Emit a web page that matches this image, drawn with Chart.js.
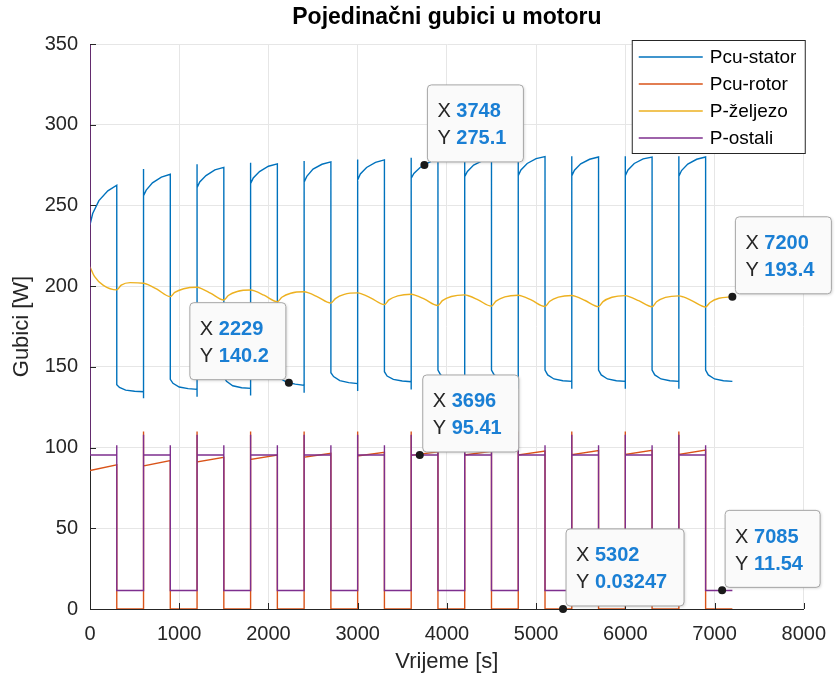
<!DOCTYPE html>
<html>
<head>
<meta charset="utf-8">
<title>Pojedinačni gubici u motoru</title>
<script src="https://cdn.jsdelivr.net/npm/chart.js@4.4.1/dist/chart.umd.min.js"></script>
<style>
  html, body { margin: 0; padding: 0; background: #fff; }
  #wrap { width: 839px; height: 679px; }
</style>
</head>
<body>
<div id="wrap"><canvas id="chart" width="839" height="679"></canvas></div>
<script>
'use strict';

// ── Values ──────────────────────────────────────────────────────────────────

// Each duty cycle: 300 s loaded, 300 s unloaded
var cycleStart = [0, 600, 1200, 1800, 2400, 3000, 3600, 4200, 4800, 5400, 6000, 6600];
var ON_TIME = 300;
var curveOffsets = [0, 30, 100, 200, 300];

// Pcu-stator, loaded part (values at curveOffsets)
var statorHigh = [
  [238, 245, 253, 259, 262.5],
  [256, 259.5, 264, 267.5, 269.3],
  [261, 264.5, 268.5, 272, 273.6],
  [263.5, 267, 271, 274.3, 275.7],
  [264.5, 268, 272.5, 275.5, 277],
  [265.8, 269.5, 273.5, 276.7, 278.2],
  [266.8, 269.8, 273.5, 276.7, 278.8],
  [267.8, 271, 275, 277.8, 279.2],
  [268.5, 272, 276, 279, 280.2],
  [268.3, 271.8, 275.8, 278.6, 280],
  [268.5, 272, 276, 278.8, 280],
  [268, 271.6, 275.6, 278.6, 280]
];
// Pcu-stator, unloaded part (values at curveOffsets)
var statorLow = [
  [139, 137.2, 135.6, 134.9, 134.6],
  [142.3, 139.8, 137.5, 136.5, 136.1],
  [143.9, 141, 138.3, 137.1, 136.7],
  [145.5, 143, 140.6, 139.3, 138.5],
  [146.4, 144, 141.5, 140.2, 139.6],
  [147, 144.3, 142.2, 141.2, 140.8],
  [148, 145, 142.5, 141.4, 141],
  [148, 145, 142.5, 141.4, 141],
  [148, 145, 142.5, 141.4, 141],
  [148, 145, 142.5, 141.4, 141],
  [148, 145, 142.5, 141.4, 141],
  [148, 145, 142.5, 141.4, 141]
];
// switching transients of Pcu-stator (dip, then overshoot) at each re-load
var statorDip   = [130.5, 131.5, 132.2, 134, 135, 136, 136.5, 136.5, 136.5, 136.5, 136.5];
var statorSpike = [null, 272.5, 275.5, 276.5, 277.5, 278.5, 279.5, 279.5, 280.5, 280.5, 280.5, 280.5];

// Pcu-rotor: linear rise while loaded, ~0 while unloaded
var rotorOffsets = [0, 300];
var rotorHigh = [
  [85.8, 89.3], [88.6, 91.9], [91.1, 94], [92.7, 95.4], [94, 96.4], [94.8, 97],
  [95.2, 97.4], [95.4, 97.7], [95.5, 97.9], [95.6, 98.1], [95.7, 98.3], [95.8, 98.4]
];
var rotorLow   = [0.03, 0.03, 0.03, 0.03, 0.03, 0.03, 0.03, 0.03, 0.03, 0.03, 0.03, 0.03];
var rotorSpike = [null, 110, 110, 110, 110, 110, 110, 110, 110, 110, 110, 110];

// P-zeljezo (values at ironOffsets inside each cycle)
var ironOffsets = [0, 50, 150, 300, 350, 450];
var ironLoss = [
  [212, 206, 200.5, 197.7, 200.6, 202.2],
  [201.8, 201, 198.1, 193.5, 196.1, 198.4],
  [199.3, 198.5, 195.7, 191.4, 194.2, 196.7],
  [197.6, 196.9, 194.4, 190.4, 193.1, 195.6],
  [196.5, 195.8, 193.4, 189.5, 192.3, 194.9],
  [195.8, 195.1, 192.6, 188.6, 191.5, 194],
  [195, 194.3, 191.9, 188, 191, 193.6],
  [194.6, 193.9, 191.5, 187.6, 190.7, 193.4],
  [194.4, 193.7, 191.3, 187.4, 190.5, 193.2],
  [194.2, 193.5, 191.1, 187.3, 190.4, 193.1],
  [194.1, 193.4, 191, 187.2, 190.3, 193],
  [194, 193.3, 190.9, 187.1, 189.9, 192.5]
];
var ironEnd = { x: 7200, y: 193.4 };

// P-ostali: two levels with short transients at switching
var ostaliStart    = 350;
var ostaliHigh     = [95.4, 95.4, 95.4, 95.4, 95.4, 95.4, 95.4, 95.4, 95.4, 95.4, 95.4, 95.4];
var ostaliLow      = [11.5, 11.5, 11.5, 11.5, 11.5, 11.5, 11.5, 11.5, 11.5, 11.5, 11.5, 11.5];
var ostaliSpikeOn  = [null, 108, 108, 108, 108, 108, 108, 108, 108, 108, 108, 108];
var ostaliSpikeOff = [101.5, 101.5, 101.5, 101.5, 101.5, 101.5, 101.5, 101.5, 101.5, 101.5, 101.5, 101.5];

// Data tips shown on the figure
var tipX = [3748, 7200, 2229, 3696, 5302, 7085];
var tipY = [275.1, 193.4, 140.2, 95.41, 0.03247, 11.54];
var tipSide = ['ne', 'ne', 'nw', 'ne', 'ne', 'ne'];

var seriesNames  = ['Pcu-stator', 'Pcu-rotor', 'P-željezo', 'P-ostali'];
var seriesColors = ['#0072BD', '#D95319', '#EDB120', '#7E2F8E'];

// ── Build point lists ───────────────────────────────────────────────────────

function buildStator() {
  var pts = [];
  cycleStart.forEach(function (t0, k) {
    if (statorSpike[k] != null) {
      pts.push({ x: t0, y: statorDip[k - 1] });
      pts.push({ x: t0, y: statorSpike[k] });
    }
    curveOffsets.forEach(function (dt, i) { pts.push({ x: t0 + dt, y: statorHigh[k][i] }); });
    curveOffsets.forEach(function (dt, i) { pts.push({ x: t0 + ON_TIME + dt, y: statorLow[k][i] }); });
  });
  return pts;
}

function buildRotor() {
  var pts = [];
  cycleStart.forEach(function (t0, k) {
    if (rotorSpike[k] != null) pts.push({ x: t0, y: rotorSpike[k] });
    rotorOffsets.forEach(function (dt, i) { pts.push({ x: t0 + dt, y: rotorHigh[k][i] }); });
    pts.push({ x: t0 + ON_TIME, y: rotorLow[k] });
    pts.push({ x: t0 + 2 * ON_TIME, y: rotorLow[k] });
  });
  return pts;
}

function buildIron() {
  var pts = [];
  cycleStart.forEach(function (t0, k) {
    ironOffsets.forEach(function (dt, i) { pts.push({ x: t0 + dt, y: ironLoss[k][i] }); });
  });
  pts.push(ironEnd);
  return pts;
}

function buildOstali() {
  var pts = [{ x: 0, y: ostaliStart }];
  cycleStart.forEach(function (t0, k) {
    if (ostaliSpikeOn[k] != null) pts.push({ x: t0, y: ostaliSpikeOn[k] });
    pts.push({ x: t0, y: ostaliHigh[k] });
    pts.push({ x: t0 + ON_TIME, y: ostaliHigh[k] });
    pts.push({ x: t0 + ON_TIME, y: ostaliSpikeOff[k] });
    pts.push({ x: t0 + ON_TIME, y: ostaliLow[k] });
    pts.push({ x: t0 + 2 * ON_TIME, y: ostaliLow[k] });
  });
  return pts;
}

// ── Styling ─────────────────────────────────────────────────────────────────

var FONT = '"Liberation Sans", Arial, Helvetica, sans-serif';
var AXIS_COLOR = '#262626';

function dataset(i, data, extra) {
  var ds = {
    label: seriesNames[i],
    data: data,
    borderColor: seriesColors[i],
    backgroundColor: seriesColors[i],
    borderWidth: 1.4,
    pointRadius: 0,
    fill: false,
    tension: 0,
    order: 4 - i
  };
  for (var k in extra) ds[k] = extra[k];
  return ds;
}

// title + axis labels
var labelsPlugin = {
  id: 'labels',
  afterDraw: function (chart) {
    var ctx = chart.ctx, a = chart.chartArea;
    var cx = (a.left + a.right) / 2;
    ctx.save();
    ctx.textAlign = 'center';
    ctx.textBaseline = 'middle';
    ctx.fillStyle = '#000';
    ctx.font = 'bold 23px ' + FONT;
    ctx.fillText('Pojedinačni gubici u motoru', cx, 18);
    ctx.fillStyle = AXIS_COLOR;
    ctx.font = '22px ' + FONT;
    ctx.fillText('Vrijeme [s]', cx, 662);
    ctx.translate(22, (a.top + a.bottom) / 2);
    ctx.rotate(-Math.PI / 2);
    ctx.fillText('Gubici [W]', 0, 0);
    ctx.restore();
  }
};

// small tick marks pointing inward, like the source plot
var innerTicks = {
  id: 'innerTicks',
  afterDatasetsDraw: function (chart) {
    var ctx = chart.ctx, a = chart.chartArea, sx = chart.scales.x, sy = chart.scales.y;
    ctx.save();
    ctx.strokeStyle = AXIS_COLOR;
    ctx.lineWidth = 1;
    ctx.beginPath();
    sx.ticks.forEach(function (t) {
      var px = Math.round(sx.getPixelForValue(t.value)) + 0.5;
      ctx.moveTo(px, a.bottom); ctx.lineTo(px, a.bottom - 6);
    });
    sy.ticks.forEach(function (t) {
      var py = Math.round(sy.getPixelForValue(t.value)) + 0.5;
      ctx.moveTo(a.left, py); ctx.lineTo(a.left + 6, py);
    });
    ctx.stroke();
    ctx.restore();
  }
};

var legendBox = {
  id: 'legendBox',
  afterDraw: function (chart) {
    var ctx = chart.ctx, a = chart.chartArea;
    var w = 174, h = 114, x0 = a.right - w + 2, y0 = 40;
    ctx.save();
    ctx.fillStyle = '#fff';
    ctx.fillRect(x0, y0, w, h);
    ctx.strokeStyle = AXIS_COLOR;
    ctx.lineWidth = 1;
    ctx.strokeRect(x0 + 0.5, y0 + 0.5, w - 1, h - 1);
    ctx.font = '19px ' + FONT;
    ctx.textBaseline = 'middle';
    chart.data.datasets.forEach(function (ds, i) {
      var yy = y0 + 17 + i * 27;
      ctx.strokeStyle = ds.borderColor;
      ctx.lineWidth = 1.4;
      ctx.beginPath();
      ctx.moveTo(x0 + 7, yy); ctx.lineTo(x0 + 71, yy);
      ctx.stroke();
      ctx.fillStyle = '#000';
      ctx.fillText(ds.label, x0 + 78, yy + 1);
    });
    ctx.restore();
  }
};

function roundRect(ctx, x, y, w, h, r) {
  ctx.beginPath();
  ctx.moveTo(x + r, y);
  ctx.lineTo(x + w - r, y); ctx.quadraticCurveTo(x + w, y, x + w, y + r);
  ctx.lineTo(x + w, y + h - r); ctx.quadraticCurveTo(x + w, y + h, x + w - r, y + h);
  ctx.lineTo(x + r, y + h); ctx.quadraticCurveTo(x, y + h, x, y + h - r);
  ctx.lineTo(x, y + r); ctx.quadraticCurveTo(x, y, x + r, y);
  ctx.closePath();
}

var dataTips = {
  id: 'dataTips',
  afterDraw: function (chart) {
    var ctx = chart.ctx, sx = chart.scales.x, sy = chart.scales.y;
    ctx.save();
    tipX.forEach(function (xv, i) {
      var px = sx.getPixelForValue(xv), py = sy.getPixelForValue(tipY[i]);
      var rows = [['X ', String(xv)], ['Y ', String(tipY[i])]];
      var textW = 0;
      rows.forEach(function (r) {
        ctx.font = '20px ' + FONT;
        var w1 = ctx.measureText(r[0]).width;
        ctx.font = 'bold 20px ' + FONT;
        textW = Math.max(textW, w1 + ctx.measureText(r[1]).width);
      });
      var bw = Math.round(textW + 27), bh = 77;
      var bx = tipSide[i] === 'nw' ? px - 3 - bw : px + 3;
      var by = py - 3 - bh;

      ctx.shadowColor = 'rgba(0,0,0,0.18)';
      ctx.shadowBlur = 3;
      ctx.shadowOffsetX = 1;
      ctx.shadowOffsetY = 1;
      roundRect(ctx, bx, by, bw, bh, 4);
      ctx.fillStyle = '#fafafa';
      ctx.fill();
      ctx.shadowColor = 'transparent';
      ctx.strokeStyle = '#a6a6a6';
      ctx.lineWidth = 1;
      ctx.stroke();

      ctx.textBaseline = 'middle';
      rows.forEach(function (r, j) {
        var ty = by + 27 + j * 27;
        ctx.font = '20px ' + FONT;
        ctx.fillStyle = AXIS_COLOR;
        ctx.fillText(r[0], bx + 10, ty);
        var w1 = ctx.measureText(r[0]).width;
        ctx.font = 'bold 20px ' + FONT;
        ctx.fillStyle = '#1a7fd4';
        ctx.fillText(r[1], bx + 10 + w1, ty);
      });

      ctx.beginPath();
      ctx.arc(px, py, 4, 0, Math.PI * 2);
      ctx.fillStyle = '#1a1a1a';
      ctx.fill();
    });
    ctx.restore();
  }
};

// ── Chart ───────────────────────────────────────────────────────────────────

new Chart(document.getElementById('chart'), {
  type: 'line',
  data: {
    datasets: [
      dataset(0, buildStator()),
      dataset(1, buildRotor()),
      dataset(2, buildIron(), { cubicInterpolationMode: 'monotone' }),
      dataset(3, buildOstali())
    ]
  },
  options: {
    responsive: false,
    animation: false,
    events: [],
    layout: { padding: { top: 44, right: 31, left: 0, bottom: 0 } },
    plugins: {
      legend: { display: false },
      tooltip: { enabled: false },
      title: { display: false }
    },
    scales: {
      x: {
        type: 'linear',
        min: 0,
        max: 8000,
        afterFit: function (s) { s.height = 70; },
        ticks: {
          stepSize: 1000,
          color: AXIS_COLOR,
          padding: 13,
          font: { family: FONT, size: 20 },
          callback: function (v) { return String(v); }
        },
        grid: { color: '#e6e6e6', drawTicks: false },
        border: { color: AXIS_COLOR, width: 1 }
      },
      y: {
        type: 'linear',
        min: 0,
        max: 350,
        afterFit: function (s) { s.width = 90; },
        ticks: { stepSize: 50, color: AXIS_COLOR, padding: 12, font: { family: FONT, size: 20 } },
        grid: { color: '#e6e6e6', drawTicks: false },
        border: { color: AXIS_COLOR, width: 1 }
      }
    }
  },
  plugins: [innerTicks, labelsPlugin, legendBox, dataTips]
});
</script>
</body>
</html>
